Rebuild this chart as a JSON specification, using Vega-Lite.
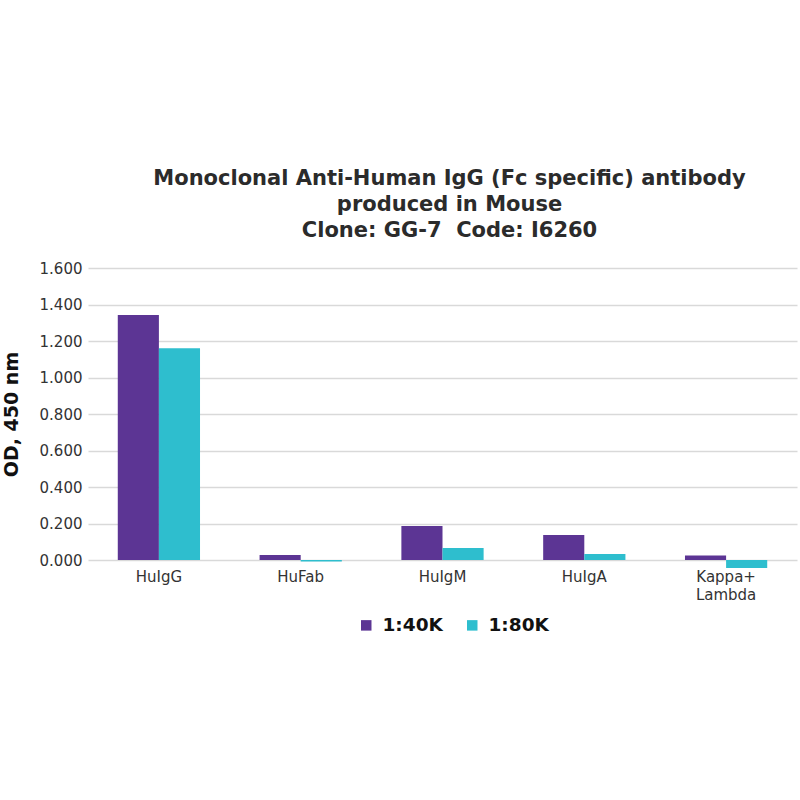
{
  "$schema": "https://vega.github.io/schema/vega-lite/v6.json",
  "autosize": {"type": "none"},
  "width": 709,
  "height": 292,
  "padding": {"left": 88, "top": 268, "right": 3, "bottom": 240},
  "background": "white",
  "title": {
    "text": ["Monoclonal Anti-Human IgG (Fc specific) antibody", "produced in Mouse", "Clone: GG-7\u00a0 Code: I6260"],
    "font": "DejaVu Sans",
    "fontSize": 21,
    "fontWeight": "bold",
    "color": "#2b2b2b",
    "lineHeight": 26,
    "anchor": "middle",
    "dx": 7,
    "offset": 20
  },
  "data": {
    "values": [
      {"antigen": "HuIgG", "dilution": "1:40K", "od": 1.342},
      {"antigen": "HuIgG", "dilution": "1:80K", "od": 1.160},
      {"antigen": "HuFab", "dilution": "1:40K", "od": 0.027},
      {"antigen": "HuFab", "dilution": "1:80K", "od": -0.008},
      {"antigen": "HuIgM", "dilution": "1:40K", "od": 0.186},
      {"antigen": "HuIgM", "dilution": "1:80K", "od": 0.066},
      {"antigen": "HuIgA", "dilution": "1:40K", "od": 0.137},
      {"antigen": "HuIgA", "dilution": "1:80K", "od": 0.033},
      {"antigen": "Kappa+ Lambda", "dilution": "1:40K", "od": 0.025},
      {"antigen": "Kappa+ Lambda", "dilution": "1:80K", "od": -0.044}
    ]
  },
  "mark": {"type": "bar"},
  "encoding": {
    "x": {
      "field": "antigen",
      "type": "nominal",
      "sort": null,
      "title": null,
      "scale": {"paddingInner": 0.42, "paddingOuter": 0.21},
      "axis": {
        "labelAngle": 0,
        "labelFont": "DejaVu Sans",
        "labelFontSize": 15,
        "labelColor": "#333333",
        "labelPadding": 9,
        "labelLineHeight": 18,
        "labelExpr": "datum.value == 'Kappa+ Lambda' ? ['Kappa+', 'Lambda'] : datum.value",
        "domain": false,
        "ticks": false
      }
    },
    "xOffset": {"field": "dilution", "type": "nominal", "sort": ["1:40K", "1:80K"]},
    "y": {
      "field": "od",
      "type": "quantitative",
      "title": "OD, 450 nm",
      "scale": {"domain": [0, 1.6], "nice": false, "zero": true},
      "axis": {
        "values": [0, 0.2, 0.4, 0.6, 0.8, 1.0, 1.2, 1.4, 1.6],
        "format": ".3f",
        "labelFont": "DejaVu Sans",
        "labelFontSize": 15,
        "labelColor": "#333333",
        "labelPadding": 6,
        "domain": false,
        "ticks": false,
        "gridColor": "#d9d9d9",
        "gridWidth": 1.5,
        "titleFont": "DejaVu Sans",
        "titleFontSize": 19,
        "titleFontWeight": "bold",
        "titleColor": "#111111",
        "titlePadding": 18
      }
    },
    "color": {
      "field": "dilution",
      "type": "nominal",
      "title": null,
      "scale": {"domain": ["1:40K", "1:80K"], "range": ["#5c3594", "#2ebece"]},
      "legend": {
        "orient": "none",
        "legendX": 269,
        "legendY": 348,
        "direction": "horizontal",
        "symbolType": "square",
        "symbolSize": 110,
        "symbolStrokeWidth": 0,
        "labelFont": "DejaVu Sans",
        "labelFontSize": 18.5,
        "labelFontWeight": "bold",
        "labelColor": "#111111",
        "columnPadding": 20,
        "labelOffset": 7
      }
    }
  },
  "config": {"view": {"stroke": null}}
}
